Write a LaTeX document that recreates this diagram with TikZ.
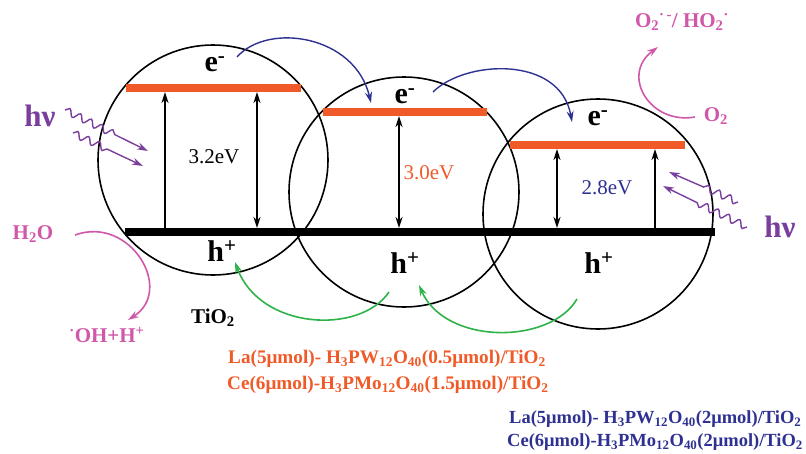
\documentclass[tikz,border=0pt]{standalone}
\usepackage{fontspec}
\setmainfont{Liberation Serif}
\usetikzlibrary{arrows.meta,decorations.pathmorphing}
\definecolor{cband}{HTML}{F05A28}
\definecolor{ebl}{HTML}{2E3192}
\definecolor{pnk}{HTML}{D058A8}
\definecolor{prp}{HTML}{7A3E9D}
\definecolor{grn}{HTML}{2DB34A}
\newcommand{\fs}[1]{\fontsize{#1}{#1}\selectfont}
\begin{document}
\begin{tikzpicture}[x=1pt,y=-1pt,
  circ/.style={draw=black,line width=1.6pt},
  cbar/.style={draw=cband,line width=7.5pt},
  vbar/.style={draw=black,line width=8pt},
  gap/.style={line width=1.8pt,-{Stealth[length=11pt,width=7pt]}},
  gapd/.style={line width=1.8pt,{Stealth[length=11pt,width=7pt]}-{Stealth[length=11pt,width=7pt]}},
  etr/.style={draw=ebl,line width=1.4pt,-{Stealth[length=11pt,width=7pt]}},
  htr/.style={draw=grn,line width=1.6pt,-{Stealth[length=11pt,width=7pt]}},
  rx/.style={draw=pnk,line width=1.6pt,-{Stealth[length=11pt,width=7pt]}},
  wave/.style={draw=prp,line width=1.4pt,decorate,decoration={snake,amplitude=3.5pt,segment length=12pt,post length=36pt},-{Stealth[length=11pt,width=7pt]}},
  carrier/.style={font=\bfseries\fs{30}},
  gaplbl/.style={font=\fs{21}},
  pinkl/.style={text=pnk,font=\bfseries\fs{21}},
  hv/.style={text=prp,font=\bfseries\fs{31}},
  cat/.style={font=\bfseries,anchor=west,inner sep=0pt}
]
\useasboundingbox (0,0) rectangle (806,453);
% particles
\draw[circ] (213,160) circle[radius=115];
\draw[circ] (404,192) circle[radius=115];
\draw[circ] (598,214) circle[radius=115];
% bands
\coordinate (cb1l) at (126,88); \coordinate (cb1r) at (301,88);
\coordinate (cb2l) at (323,112); \coordinate (cb2r) at (487,112);
\coordinate (cb3l) at (510,145); \coordinate (cb3r) at (685,145);
\coordinate (vbl) at (125,232); \coordinate (vbr) at (715,232);
\draw[cbar] (cb1l) -- (cb1r);
\draw[cbar] (cb2l) -- (cb2r);
\draw[cbar] (cb3l) -- (cb3r);
\draw[vbar] (vbl) -- (vbr);
% band gap arrows
\coordinate (a1b) at (165,228); \coordinate (a1t) at (165,92);
\coordinate (a2t) at (257,92); \coordinate (a2b) at (257,228);
\coordinate (a3t) at (399,116); \coordinate (a3b) at (399,228);
\coordinate (a4t) at (557,149); \coordinate (a4b) at (557,228);
\coordinate (a5b) at (655,228); \coordinate (a5t) at (655,149);
\draw[gap] (a1b) -- (a1t);
\draw[gapd] (a2t) -- (a2b);
\draw[gapd] (a3t) -- (a3b);
\draw[gapd] (a4t) -- (a4b);
\draw[gap] (a5b) -- (a5t);
\node[gaplbl] (g1) at (214,157) {3.2eV};
\node[gaplbl,text=cband] (g2) at (429,173) {3.0eV};
\node[gaplbl,text=ebl] (g3) at (607,188) {2.8eV};
% carriers
\node[carrier] (e1) at (215,64) {e\textsuperscript{-}};
\node[carrier] (e2) at (405,96) {e\textsuperscript{-}};
\node[carrier] (e3) at (598,118) {e\textsuperscript{-}};
\node[carrier] (h1) at (222,251) {h\textsuperscript{+}};
\node[carrier] (h2) at (405,263) {h\textsuperscript{+}};
\node[carrier] (h3) at (599,263) {h\textsuperscript{+}};
% electron transfer
\coordinate (es1) at (237,57); \coordinate (ee1) at (371,103);
\coordinate (es2) at (433,92); \coordinate (ee2) at (572,122);
\draw[etr] (es1) .. controls (268,22) and (355,35) .. (ee1);
\draw[etr] (es2) .. controls (465,60) and (560,55) .. (ee2);
% hole transfer
\coordinate (hs1) at (389,292); \coordinate (he1) at (235,262);
\coordinate (hs2) at (577,299); \coordinate (he2) at (419,285);
\draw[htr] (hs1) .. controls (360,335) and (260,330) .. (he1);
\draw[htr] (hs2) .. controls (550,345) and (445,345) .. (he2);
% light
\node[hv] (hvl) at (40,116) {hν};
\node[hv] (hvr) at (780,227) {hν};
\coordinate (wl1s) at (65,110); \coordinate (wl1e) at (148,151);
\coordinate (wl2s) at (73,133); \coordinate (wl2e) at (143,166);
\coordinate (wr1s) at (738,202); \coordinate (wr1e) at (669,172);
\coordinate (wr2s) at (747,227); \coordinate (wr2e) at (663,186);
\draw[wave] (wl1s) -- (wl1e);
\draw[wave] (wl2s) -- (wl2e);
\draw[wave] (wr1s) -- (wr1e);
\draw[wave] (wr2s) -- (wr2e);
% reactions
\node[pinkl] (h2o) at (33,234) {H\textsubscript{2}O};
\node[pinkl] (oh) at (107,335) {\textsuperscript{·}OH+H\textsuperscript{+}};
\node[pinkl] (o2) at (716,116) {O\textsubscript{2}};
\node[pinkl] (rad) at (682,22) {O\textsubscript{2}\textsuperscript{·\,-}/ HO\textsubscript{2}\textsuperscript{·}};
\coordinate (p1s) at (75,235); \coordinate (p1e) at (128,320);
\coordinate (p2s) at (695,117); \coordinate (p2e) at (658,47);
\draw[rx] (p1s) .. controls (130,215) and (175,290) .. (p1e);
\draw[rx] (p2s) .. controls (650,125) and (620,75) .. (p2e);
% labels
\node[font=\bfseries\fs{21}] (tio2) at (213,318) {TiO\textsubscript{2}};
\node[cat,text=cband,font=\bfseries\fs{19.2}] (c1) at (228,359) {La(5μmol)- H\textsubscript{3}PW\textsubscript{12}O\textsubscript{40}(0.5μmol)/TiO\textsubscript{2}};
\node[cat,text=cband,font=\bfseries\fs{19.2}] (c2) at (227,385) {Ce(6μmol)-H\textsubscript{3}PMo\textsubscript{12}O\textsubscript{40}(1.5μmol)/TiO\textsubscript{2}};
\node[cat,text=ebl,font=\bfseries\fs{18.5}] (c3) at (509,419) {La(5μmol)- H\textsubscript{3}PW\textsubscript{12}O\textsubscript{40}(2μmol)/TiO\textsubscript{2}};
\node[cat,text=ebl,font=\bfseries\fs{18.5}] (c4) at (507,442) {Ce(6μmol)-H\textsubscript{3}PMo\textsubscript{12}O\textsubscript{40}(2μmol)/TiO\textsubscript{2}};
\end{tikzpicture}
\end{document}
